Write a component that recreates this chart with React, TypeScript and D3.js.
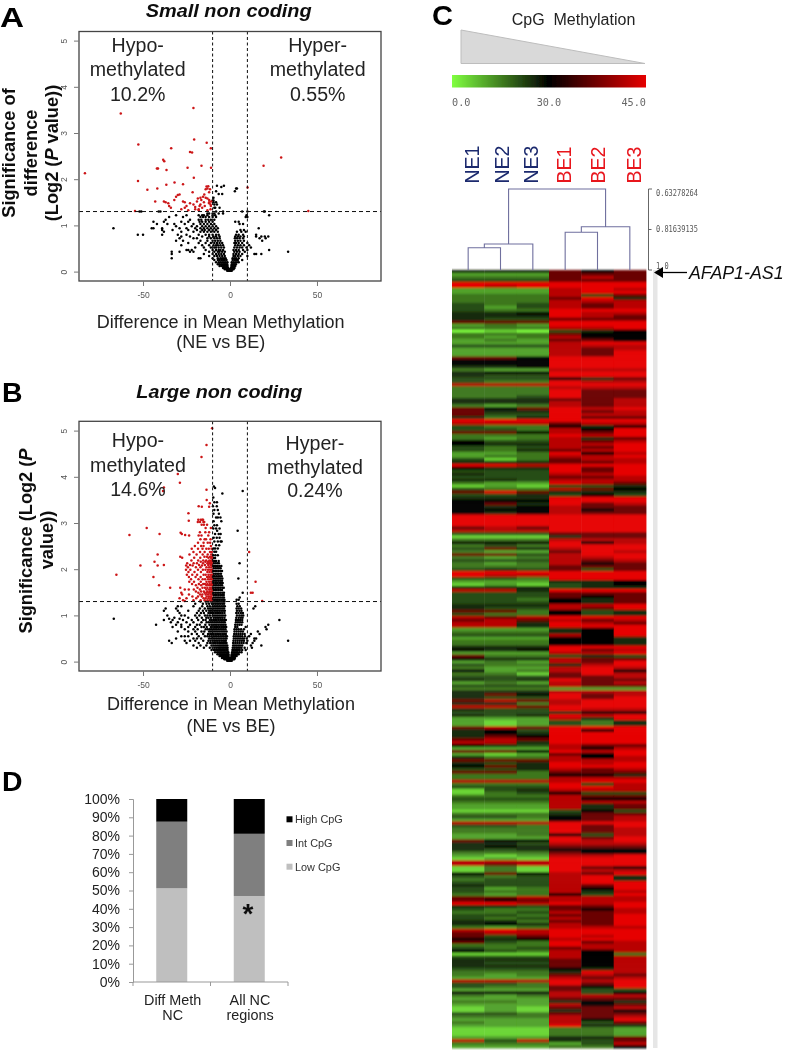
import React, { useEffect, useRef } from "react";
import * as d3 from "d3";

type Band = [number, number[]];

// Panel A, points: [significance, [differences...]]
const smallRed: Band[] = [
  [3.54, [-21]], [3.42, [-62.8]], [2.86, [-20.6]], [2.79, [-13.4]], [2.75, [-52.7]], [2.67, [-33.8, -11]],
  [2.59, [-23]], [2.58, [-21.8]], [2.47, [29.4]], [2.42, [-38.4]], [2.39, [-37.8]], [2.29, [-16.4, 19.3]],
  [2.25, [-24.4, -10.9]], [2.23, [-42, -41.4]], [2.2, [-36.5]], [2.13, [-83.4]], [2.03, [-20.8]], [1.96, [-52.9]],
  [1.93, [-31.9]], [1.89, [-27]], [1.88, [-36.6]], [1.85, [-12.5]], [1.84, [-13.5]], [1.82, [10.1]],
  [1.8, [-41.8, -13]], [1.78, [-14, -11.5]], [1.77, [-47.5]], [1.72, [-12, -21.5]], [1.67, [-29, -14.8]],
  [1.66, [-30]], [1.62, [-31, -15.5]], [1.6, [-17, -14]], [1.58, [-18.5, -13]], [1.55, [-32, -16.5, -12]],
  [1.52, [-43, -38, -27, -19, -10.8]], [1.5, [-37, -26, -15, -12]], [1.48, [-35.5, -23, -12]],
  [1.45, [-21, -17, -11.2]], [1.42, [-35, -25, -17.5, -14.5, -11]], [1.4, [-20]], [1.38, [-34, -26, -16]],
  [1.35, [-28, -20, -18, -11.2]], [1.33, [-24, -18, -13]], [1.31, [-54.6, 45]],
];

const smallBlack: Band[] = [
  [1.86, [-7.5, -3.5]], [1.83, [-5]], [1.8, [3.5, 4]], [1.74, [-8, 2.8]], [1.68, [-6.5, -4.5]], [1.6, [-9.5]],
  [1.54, [-10, -9.5]], [1.5, [-9.5, -8]], [1.45, [-9, -7.5]], [1.38, [-9, -8.5, -6]],
  [1.3, [-52, -51, -41, -40, -8, -4, 7, 10, 19.5, 20]], [1.26, [-13, -12, -10, -9, -6.5, -4]],
  [1.22, [-31, -25, -18, -16, -15, -13, -10, -8.5, 9.5, 22.5]], [1.18, [-35, -27, -17, -15.5, -14, -12, -10, -8, 9, 10]],
  [1.12, [-37, -23, -18, -16.5, -14, -12.5, -11, -9]], [1.08, [-44, -38, -28, -24, -17.5, -16, -14, -12, -10, 3, 5]],
  [1.03, [-42, -36, -32, -26, -21, -17, -15, -13, -11, -9, 5.5, 7.5]], [0.98, [-31, -22, -19, -16, -14, -12, -10, -8]],
  [0.94, [-67, -45, -44, -39, -29, -25, -20, -17, -15, -13, -11, -9, -7, 16.5]],
  [0.9, [-39, -33, -24, -19, -16, -14.5, -12, -10, -8, 6, 8]], [0.86, [-38, -28, -21, -17, -15, -13, -11, -9, -7, 4, 6.5, 9]],
  [0.8, [-53, -50, -39, -30, -25, -18, -14, -12, -10, -8, -6.5, 3.5, 5, 7.5, 15]],
  [0.76, [-28, -23, -16, -12, -9.5, -8, -6, 3, 4.5, 6, 8, 15, 18, 20, 22]],
  [0.72, [-29, -21, -19, -13, -11, -9, -7.5, -6, 2.8, 4, 5.5, 7.5, 17, 20.5]],
  [0.67, [-31, -27, -17, -13, -10, -8.5, -7, -5.5, 3, 4.5, 6, 8, 18.5]],
  [0.62, [-24, -18, -14, -11, -9, -7.5, -6, -4.5, 2.5, 3.5, 5, 7, 10]],
  [0.57, [-28, -16, -12, -9.5, -8, -7, -5.5, -4, 3, 4.5, 6, 8, 11]],
  [0.52, [-20, -15, -11, -9, -8, -6.5, -5, -3.5, 2.5, 4, 5.5, 7, 9.5, 12]],
  [0.47, [-25, -24, -22, -14, -10, -8, -6.5, -5.5, -4, 2, 3.5, 5, 7.5, 10, 22.5]],
  [0.43, [-33.5, -29, -23, -21, -12, -9, -7, -6, -4.5, -3, 2.5, 4, 5.5, 8.5, 33.4]],
  [0.38, [-33.5, -15, -10, -8, -6.5, -5, -3.5, 2, 3.5, 5, 7, 14, 15, 18]],
  [0.34, [-12, -9, -7.5, -6, -4.5, -3, 2, 3, 4.5, 6, 10]],
  [0.29, [-33.5, -18, -17, -10, -7, -5.5, -4.5, -3.5, -2.5, 1.5, 2.5, 3.5, 5]],
  [0.25, [-9, -7, -6, -5, -4, -3, -2, 1.5, 2.5, 3.5, 4.5, 7]],
  [0.2, [-8, -6.5, -5.5, -4.5, -3.5, -2.5, -1.5, 1, 2, 3, 4, 5]],
  [0.16, [-7, -6, -5, -4, -3.2, -2.4, -1.6, 1, 1.8, 2.6, 3.4]], [0.12, [-6, -5, -4, -3, -2.2, -1.4, 0.8, 1.6, 2.4, 3]],
  [0.08, [-4, -3, -2.3, -1.6, -1, 0.6, 1.3, 2, 2.6]], [0.05, [-3, -2.2, -1.5, -1, -0.4, 0.2, 0.8, 1.4, 2]],
  [0.02, [-1.6, -1, -0.5, 0, 0.5, 1]],
];

// Panel B
const largeRed: Band[] = [
  [5.05, [-10.3]], [4.69, [-13.5]], [4.43, [-16.4]], [4.06, [-30]], [3.87, [-28.8]], [3.77, [-38]], [3.72, [-13.5]],
  [3.69, [-38.5]], [3.5, [-13.4]], [3.43, [-11.6]], [3.36, [-18]], [3.35, [-16.2, -12]], [3.21, [-23.9]],
  [3.07, [-18.2, -16.8, -16, -15.5]], [3.05, [-23.7]], [3.02, [-18.5, -17.2, -15.3, -14.8]], [2.96, [-16.3, -15, -13.2]],
  [2.89, [-47.9, -14, -11]], [2.8, [-17.3, -14.2, -12]], [2.79, [-28.4]], [2.76, [-40.5, -27.7]], [2.74, [-57.8, -25.8]],
  [2.73, [-23.5, -18, -16.4, -12.5]], [2.65, [-17, -14.6, -13.8, -11.2]], [2.57, [-18.4, -15.2, -12.8, -11.4]],
  [2.5, [-20.2, -16.6, -15.2, -11]], [2.44, [-22, -18.4, -15.8, -13.6, -12.2, -10.6]],
  [2.37, [11, -21, -17.2, -14.6, -11.5, -10.5]], [2.32, [-41.6, -23.3, -19.2, -15.7, -12.8, -10.8]],
  [2.27, [-28.6, -14.7, -13.3, -11.4, -10.5]], [2.25, [-27.5, -20.6, -17.1, -12.4, -11, -10.4]],
  [2.19, [-22.2, -18.3, -15.4, -13.7, -11.9, -10.9, -10.4]], [2.16, [-43.4, -16.8, -14.2, -12.6, -11.3, -10.4]],
  [2.13, [-24.6, -20.9, -19, -15.5, -13, -11.8, -10.8]], [2.09, [-38, -23, -17.8, -14.4, -12.5, -11.2, -10.4]],
  [2.08, [-51.5, -41.6, -25.2, -21.5, -16.1]], [2.04, [-24.2, -19.6, -17, -13.5, -12, -10.8]],
  [1.99, [-25.3, -22.8, -18.4, -15.6, -14.1, -12.6, -11.4, -10.4]], [1.94, [-23.9, -20.4, -16.7, -13, -11.8, -10.6]],
  [1.88, [-65.3, -24.8, -21.7, -18.9, -15.2, -14, -12.4, -11.2, -10.4]], [1.83, [-44, -23.6, -19.8, -16.9, -13.2, -12, -10.8]],
  [1.78, [-22.4, -18.1, -15.7, -14.3, -12.6, -11.4, -10.4]], [1.73, [14.7, -23.4, -20.7, -16.8, -13.5, -12, -10.8]],
  [1.68, [-21.8, -17.9, -15.4, -14.4, -13, -11.6, -10.4]], [1.65, [-40.8, -19.6, -16.6, -13.5, -12, -10.8]],
  [1.6, [-34.4, -28.6, -18.7, -15.8, -14.4, -13, -11.4, -10.4]], [1.56, [-26, -23.7, -20.8, -17.3, -13.6, -12, -10.8]],
  [1.52, [-19.6, -16.6, -15, -13, -11.6, -10.4]], [1.49, [12, 13, -28, -18.2, -14.6, -13.4, -12, -10.8]],
  [1.45, [-27.5, -23.6, -17.2, -15.9, -14, -12.6, -11.2, -10.4]], [1.41, [-21.6, -18.4, -16.2, -13.4, -12, -10.8]],
  [1.37, [-29, -25, -19.4, -15.2, -14, -12.4, -11.2, -10.4]], [1.33, [-27, -21, -16.9, -14.6, -13, -11.6, -10.6]],
  [1.31, [18.5, -26]],
];

const largeBlack: Band[] = [
  [3.79, [-9.3]], [3.76, [-8.6]], [3.69, [7.3]], [3.64, [-4.4]], [3.55, [-9.6]], [3.45, [-9, -7.5]], [3.36, [-9.8, -7.6]],
  [3.28, [-7, -9]], [3.2, [-9.5, -6.4]], [3.12, [-8, -5.5, -7]], [3.04, [-9.4, -5]], [2.95, [-9, -7.5]],
  [2.88, [-9.6, -8, -6]], [2.83, [4.4, -7.4]], [2.76, [-8.6, -6.5, -5.4]], [2.68, [-9.4, -7.6, -6]], [2.6, [-9, -7, -5.4, -4.8]],
  [2.52, [-8, -6.2]], [2.45, [-9.4, -7, -8.5]], [2.38, [-9, -8]], [2.3, [-9.6, -8.4, -7]], [2.24, [-9.5, -8.6]],
  [2.18, [-9.6, -8.8, -8, -6.5]], [2.13, [5.5, -9.5, -8.5, -7.4, -6.4]], [2.07, [-9.6, -8.8, -8, -7, -6, -5]],
  [2.02, [-9.4, -8.4, -7.4, -6.4, -5.4]], [1.96, [-9.6, -8.6, -7.6, -6.6, -5.6, -4.6]], [1.9, [-9.4, -8.4, -7.4, -6.4, -5.2]],
  [1.85, [-9.6, -8.8, -7.8, -6.8, -5.8, -4.8]], [1.8, [4.8, -9.4, -8.4, -7.4, -6.4, -5.4, -4.4]],
  [1.75, [-9.6, -8.6, -7.6, -6.6, -5.6, -4.6]], [1.7, [-9.4, -8.4, -7.4, -6.2, -5.2, -4.2]],
  [1.65, [-9.6, -8.6, -7.6, -6.6, -5.6, -4.6]], [1.6, [-9.4, -8.4, -7.4, -6.4, -5.4, -4.4, -3.6]],
  [1.55, [-9.6, -8.6, -7.6, -6.6, -5.6, -4.6]], [1.49, [7.3, -9.4, -8.4, -7.4, -6.4, -5.4, -4.4, -3.5]],
  [1.44, [-9.6, -8.6, -7.6, -6.6, -5.6, -4.6, -3.6]], [1.39, [-9.4, -8.4, -7.4, -6.4, -5.4, -4.4, -3.5, 5.6]],
  [1.34, [-10, -9, -8, -7, -6, -5, -4, -3.2, 3.8, 5]],
  [1.3, [-17, -14, -12.6, -11, -10, -9, -8, -7, -6, -5, -4, -3.2]],
  [1.25, [-20, -15.6, -13.5, -12, -10.4, -9.4, -8.4, -7.4, -6.4, -5.4, -4.4, -3.4, 3.8, 5]],
  [1.2, [-30, -28, -21, -16, -13, -11.6, -10, -9, -8, -7, -6, -5, -4, -3, 4.2, 5.6, 14.5]],
  [1.15, [-37, -31, -17.3, -14.5, -12.6, -11.4, -10.4, -9.4, -8.4, -7.4, -6.4, -5.4, -4.4, -3.4, 3.8, 5, 6.4, 13.5]],
  [1.1, [-38, -30, -24, -18, -15.6, -13.6, -12, -11, -10, -9, -8, -7, -6, -5, -4, -3, 4, 5.4, 6.6]],
  [1.05, [-29, -19, -16.7, -15, -12.4, -11.4, -10.4, -9.4, -8.4, -7.4, -6.4, -5.4, -4.4, -3.2, 3.6, 4.8, 6.2, 7.4]],
  [1, [-36, -28, -26, -20, -17.6, -14.4, -13, -11.6, -10, -9, -8, -7, -6, -5, -4, -2.8, 4, 5.4, 6.6, 7.6]],
  [0.95, [-32, -24, -19, -16.2, -13.6, -12.4, -11, -9.4, -8.4, -7.4, -6.4, -5.4, -4.4, -3.2, 3.6, 5, 6.2, 7.2]],
  [0.93, [-66.8, -35, -29]],
  [0.9, [-38, -33, -27, -22, -18.3, -15.4, -14, -11.6, -10.6, -9.6, -8.6, -7.6, -6.6, -5.6, -4.6, -3.4, -2.4, 3.4, 4.6, 5.8, 7, 28.4]],
  [0.85, [-34, -30, -25, -21, -16.4, -13.4, -12.2, -11, -10, -9, -8, -7, -6, -5, -4, -3, 3.4, 4.6, 5.8, 7]],
  [0.8, [-42.5, -31, -28, -23, -19, -17.4, -14.2, -11.8, -10.6, -9.6, -8.6, -7.6, -6.6, -5.6, -4.6, -3.6, -2.6, 3, 4.2, 5.4, 6.6, 22]],
  [0.75, [-33, -28, -24, -20, -16.4, -15, -13.4, -11, -10, -9, -8, -7, -6, -5, -4, -3, -2.2, 3, 4.2, 9, 20.4]],
  [0.7, [-26, -21, -18.6, -14, -12.8, -11.6, -10.6, -9.6, -8.6, -7.6, -6.6, -5.6, -4.6, -3.6, -2.6, 2.6, 3.8, 5, 6.4, 8, 21]],
  [0.65, [-30, -24, -20, -16.4, -14.8, -12, -11, -10, -9, -8, -7, -6, -5, -4, -3, -2, 2.6, 3.8, 5, 6.2, 7.4, 16]],
  [0.6, [-22, -19, -15.4, -12.6, -11.4, -10.4, -9.4, -8.4, -7.4, -6.4, -5.4, -4.4, -3.4, -2.4, 2.4, 3.6, 4.8, 6, 7.2, 8.4, 12, 17]],
  [0.55, [-28, -26, -24, -18, -14.4, -13, -11.8, -10.6, -9.6, -8.6, -7.6, -6.6, -5.6, -4.6, -3.6, -2.6, -1.8, 2.2, 3.4, 4.6, 5.8, 7, 8.6, 11]],
  [0.5, [-31, -21, -19, -16.6, -12, -10.8, -9.8, -8.8, -7.8, -6.8, -5.8, -4.8, -3.8, -2.8, -2, 2.2, 3.4, 4.6, 5.8, 7, 8, 9.6, 14, 15]],
  [0.45, [-35, -26, -23, -20, -15.4, -12.4, -11.2, -10, -9, -8, -7, -6, -5, -4, -3.2, -2.4, 2, 3.2, 4.4, 5.6, 6.8, 8, 10, 14, 33.4]],
  [0.4, [-33.5, -25, -18, -13, -11.4, -10.2, -9.2, -8.2, -7.2, -6.2, -5.2, -4.4, -3.6, -2.8, -2, 1.8, 3, 4.2, 5.4, 6.6, 7.8, 9.4, 13]],
  [0.35, [-21, -17, -13.6, -10.6, -9.4, -8.4, -7.4, -6.4, -5.6, -4.8, -4, -3.2, -2.4, -1.6, 1.8, 2.8, 3.8, 4.8, 5.8, 7, 12, 18]],
  [0.3, [-19, -15, -11.6, -10, -8.8, -7.8, -6.8, -6, -5.2, -4.4, -3.6, -2.8, -2, -1.4, 1.6, 2.6, 3.6, 4.6, 5.6, 6.6, 8.4, 12.6]],
  [0.25, [-10.6, -9.2, -8, -7, -6.2, -5.4, -4.6, -3.8, -3, -2.2, -1.4, 1.4, 2.2, 3, 3.8, 4.6, 5.6, 7, 9]],
  [0.2, [-8.6, -7.4, -6.4, -5.6, -4.8, -4, -3.2, -2.4, -1.6, -1, 1.2, 2, 2.8, 3.6, 4.4, 5.4, 6.6]],
  [0.16, [-7.2, -6.2, -5.4, -4.6, -3.8, -3, -2.2, -1.5, -0.9, 1, 1.8, 2.6, 3.4, 4.2, 5]],
  [0.12, [-6, -5.2, -4.4, -3.6, -2.8, -2.1, -1.4, -0.8, 0.8, 1.5, 2.2, 3, 3.8]],
  [0.08, [-4.6, -3.8, -3, -2.3, -1.6, -1, -0.4, 0.2, 0.8, 1.4, 2.1, 2.8]],
  [0.05, [-3.2, -2.5, -1.8, -1.2, -0.6, 0, 0.6, 1.2, 1.8, 2.4]],
  [0.02, [-1.6, -1, -0.5, 0, 0.5, 1]],
];

// Panel C, one string per row, one digit per sample, looked up in methLevels
const samples = ["NE1", "NE2", "NE3", "BE1", "BE2", "BE3"];
const methLevels = [0, 5, 11, 16, 21, 25, 30, 37, 42, 45];
const heatRows = [
  "555767", "222777", "333787", "444777", "999999", "989999", "222898", "222899", "333847", "333795", "333888", "434878",
  "424878", "433999", "556988", "555987", "544777", "777999", "232999", "333889", "010456", "333766", "323866", "232776",
  "222899", "444888", "222878", "222879", "222879", "776999", "666999", "666999", "556999", "322888", "566999", "544999",
  "444657", "433988", "888999", "333888", "333977", "333977", "334977", "555778", "555878", "323878", "767989", "755978",
  "744988", "535977", "999999", "888788", "433656", "443869", "776879", "333989", "323857", "644878", "655889", "434879",
  "435789", "223968", "233889", "413788", "555778", "998999", "655979", "444979", "544889", "444778", "554888", "322987",
  "121445", "433876", "797555", "445464", "555999", "666999", "675978", "656877", "666867", "656877", "999999", "999999",
  "999999",
  "999999", "787999", "888999", "444777", "111577", "333888", "666968", "343999", "475899", "322798", "774899", "323889",
  "444878", "323867", "333777", "454747", "999999", "988999", "443999", "222556", "121456", "555455", "885999", "444777",
  "444767", "443657", "444657", "555889", "544879", "773645", "433645", "878999", "787878", "885987", "885999", "222569",
  "333569", "444869", "222665", "333665", "333665", "555999", "656978", "222889", "733454", "655877",
  "232879", "433589", "322898", "623896", "331798", "444778", "545977", "232878", "444877", "333222", "555888", "576978",
  "544979", "787899", "553899", "887999", "544988", "444566", "545989", "222859", "212435", "212435", "787999", "564969",
  "565999", "576999", "787999", "885999", "654877", "222868", "776989", "212769", "533868", "777888", "545989", "675999",
  "445878", "773777", "333665", "333888", "888899", "333948", "444998", "145888", "134644",
  "333877", "444866", "333888", "222857", "222857", "111464", "333577", "443678", "222678", "888999", "443979", "333978",
  "333978", "223648", "222979", "766989", "554888", "565777", "545666", "333766", "212889", "121999", "888999", "878999",
  "131976", "131988", "676879", "434895", "344895", "444899", "544879", "423869", "433858", "323649", "778888", "767888",
  "998989", "554779", "433768", "334878", "443779", "434879", "553779", "565879", "323888", "898999", "788999", "747989",
  "656899", "743978", "333988", "434788", "643868", "111863", "444868", "555768", "544768", "555768", "444658", "333598",
  "323787", "222878", "888989", "443979", "433769", "222744", "666846", "323888", "222777", "332565", "222867", "121778",
  "121576", "443777", "333878", "222869", "322847", "222955", "111332", "111332", "111332", "222557", "848547", "333248",
  "222336",
];

// Dendrogram, merge similarity
const dendrogram = {
  sim: 0.6328,
  children: [
    { sim: 0.882, children: [{ sim: 0.899, children: [{ name: "NE1" }, { name: "NE2" }] }, { name: "NE3" }] },
    { sim: 0.804, children: [{ sim: 0.829, children: [{ name: "BE1" }, { name: "BE2" }] }, { name: "BE3" }] },
  ],
};
const similarityTicks = ["0.63278264", "0.81639135", "1.0"];
const colorStops = [0, 30, 45];

// Panel D
const cpgGroups = ["Diff Meth NC", "All NC regions"];
const cpgLow = [51.2, 47];
const cpgInt = [36.4, 34];
const cpgHigh = [12.4, 19];
const cpgLegend = ["High CpG", "Int CpG", "Low CpG"];

const SANS = "'Liberation Sans', Arial, sans-serif";
const MONO = "'DejaVu Sans Mono', monospace";

function addLines(g: any, lines: string[], x: number, y0: number, step: number, size: number) {
  lines.forEach((line, i) => {
    g.append("text")
      .attr("x", x)
      .attr("y", y0 + i * step)
      .attr("text-anchor", "middle")
      .attr("font-family", SANS)
      .attr("font-size", size)
      .attr("fill", "#222")
      .text(line);
  });
}

function drawVolcano(svg: any, top: number, bottom: number, red: Band[], black: Band[]) {
  const x = d3.scaleLinear().domain([-86.8, 86.8]).range([79, 381]);
  // y=0 sits 9.4px above the box bottom, 46.2 px per unit
  const y = d3.scaleLinear().domain([0, 5]).range([bottom - 9.4, bottom - 9.4 - 231]);
  const g = svg.append("g");

  const flat = (bands: Band[]) => bands.flatMap(([v, xs]) => xs.map((d) => [d, v]));

  g.append("g")
    .selectAll("circle")
    .data(flat(black))
    .join("circle")
    .attr("cx", (d: number[]) => x(d[0]))
    .attr("cy", (d: number[]) => y(d[1]))
    .attr("r", 1.25)
    .attr("fill", "#000");
  g.append("g")
    .selectAll("circle")
    .data(flat(red))
    .join("circle")
    .attr("cx", (d: number[]) => x(d[0]))
    .attr("cy", (d: number[]) => y(d[1]))
    .attr("r", 1.25)
    .attr("fill", "#cc1418");

  // cut-offs
  [-10, 10].forEach((v) => {
    g.append("line")
      .attr("x1", x(v)).attr("x2", x(v)).attr("y1", top).attr("y2", bottom)
      .attr("stroke", "#111").attr("stroke-width", 1).attr("stroke-dasharray", "3,2.5");
  });
  g.append("line")
    .attr("x1", 79).attr("x2", 381).attr("y1", y(1.3)).attr("y2", y(1.3))
    .attr("stroke", "#111").attr("stroke-width", 1).attr("stroke-dasharray", "4,3");

  g.append("rect")
    .attr("x", 79).attr("y", top).attr("width", 302).attr("height", bottom - top)
    .attr("fill", "none").attr("stroke", "#444").attr("stroke-width", 1.3);

  const xAxis = g.append("g")
    .attr("transform", `translate(0,${bottom})`)
    .call(d3.axisBottom(x).tickValues([-50, 0, 50]).tickFormat((d: any) => String(d)).tickSize(5).tickPadding(6));
  const yAxis = g.append("g")
    .attr("transform", "translate(79,0)")
    .call(d3.axisLeft(y).tickValues([0, 1, 2, 3, 4, 5]).tickFormat((d: any) => String(d)).tickSize(5));
  [xAxis, yAxis].forEach((a) => {
    a.select(".domain").remove();
    a.selectAll("line").attr("stroke", "#777");
    a.selectAll("text").attr("font-family", SANS).attr("font-size", 8.5).attr("fill", "#555");
  });
  yAxis.selectAll("text")
    .attr("text-anchor", "middle")
    .attr("dy", 0)
    .attr("x", 0)
    .attr("y", 0)
    .attr("transform", "translate(-12,0) rotate(-90)");
}

function drawHeatmap(svg: any) {
  const color = d3.scaleLinear<string>().domain(colorStops).range(["#80ff40", "#000000", "#e60000"]);
  const col = d3.scaleBand().domain(samples).range([452, 646]);
  const row = d3.scaleBand().domain(heatRows.map((_, i) => String(i))).range([270, 1048]);

  const defs = svg.append("defs");
  // the source is a resampled raster, neighbouring rows run into each other
  defs.append("filter").attr("id", "rowBlur").attr("x", 0).attr("width", 1)
    .append("feGaussianBlur").attr("stdDeviation", "0 1");

  const rows = svg.append("g")
    .attr("filter", "url(#rowBlur)")
    .selectAll("g")
    .data(heatRows)
    .join("g")
    .attr("transform", (_: string, i: number) => `translate(0,${row(String(i))})`);
  rows.selectAll("rect")
    .data((d: string) => samples.map((s, j) => ({ s, v: methLevels[+d[j]] })))
    .join("rect")
    .attr("x", (d: any) => col(d.s))
    .attr("width", col.bandwidth() + 0.4)
    .attr("height", row.bandwidth() + 0.4)
    .attr("fill", (d: any) => color(d.v));

  // light strip right of the heatmap
  svg.append("rect")
    .attr("x", 653).attr("y", 270).attr("width", 4.5).attr("height", 778).attr("fill", "#e6e6e6");

  // dendrogram through d3.hierarchy
  const sim = d3.scaleLinear().domain([1, 0.6328]).range([270, 189]);
  const root = d3.hierarchy<any>(dendrogram);
  root.eachAfter((n: any) => {
    n.px = n.children ? d3.mean(n.children, (c: any) => c.px) : (col(n.data.name) as number) + col.bandwidth() / 2;
    n.py = n.children ? sim(n.data.sim) : 270;
  });
  const elbow = root.descendants().filter((n: any) => n.children).map((n: any) => {
    const [a, b] = n.children;
    return `M${a.px},${a.py}V${n.py}H${b.px}V${b.py}`;
  });
  svg.append("path")
    .attr("d", elbow.join(""))
    .attr("fill", "none")
    .attr("stroke", "#6f6f9e")
    .attr("stroke-width", 1.1);

  const labelX = [479.3, 509.3, 538.3, 571.3, 605, 640.7];
  samples.forEach((s, i) => {
    svg.append("text")
      .attr("transform", `translate(${labelX[i]},183.5) rotate(-90)`)
      .attr("font-family", SANS)
      .attr("font-size", 19.5)
      .attr("fill", i < 3 ? "#1b2a6e" : "#e8141c")
      .text(s);
  });

  // similarity bracket
  svg.append("path")
    .attr("d", "M652,189H648.5V270H652M648.5,229.5H651.5")
    .attr("fill", "none").attr("stroke", "#555").attr("stroke-width", 0.9);
  const simY = [196, 231.7, 269];
  similarityTicks.forEach((t, i) => {
    svg.append("text")
      .attr("x", 656).attr("y", simY[i])
      .attr("font-family", MONO).attr("font-size", 8).attr("fill", "#555")
      .attr("textLength", t.length * 4.2).attr("lengthAdjust", "spacingAndGlyphs")
      .text(t);
  });

  // arrow to the gene name
  svg.append("line")
    .attr("x1", 687).attr("x2", 660).attr("y1", 272.5).attr("y2", 272.5)
    .attr("stroke", "#000").attr("stroke-width", 1.3);
  svg.append("path").attr("d", "M654,272.5L663,267V278Z").attr("fill", "#000");
  svg.append("text")
    .attr("x", 689).attr("y", 279)
    .attr("font-family", SANS).attr("font-style", "italic").attr("font-size", 17.8).attr("fill", "#111")
    .text("AFAP1-AS1");

  // methylation key
  svg.append("text")
    .attr("x", 573.5).attr("y", 25.3).attr("text-anchor", "middle")
    .attr("font-family", SANS).attr("font-size", 16).attr("fill", "#222")
    .style("white-space", "pre")
    .text("CpG  Methylation");
  svg.append("path")
    .attr("d", "M461,30V63.5H645Z")
    .attr("fill", "#d9d9d9").attr("stroke", "#bdbdbd").attr("stroke-width", 1);

  const keyX = d3.scaleLinear().domain(colorStops).range([452, 549, 646]);
  const grad = defs.append("linearGradient").attr("id", "methKey");
  colorStops.forEach((v) => {
    grad.append("stop")
      .attr("offset", (keyX(v) - 452) / 194)
      .attr("stop-color", color(v));
  });
  svg.append("rect")
    .attr("x", 452).attr("y", 75).attr("width", 194).attr("height", 12.5)
    .attr("fill", "url(#methKey)");
  const anchors = ["start", "middle", "end"];
  colorStops.forEach((v, i) => {
    svg.append("text")
      .attr("x", keyX(v)).attr("y", 105.5).attr("text-anchor", anchors[i])
      .attr("font-family", MONO).attr("font-size", 10.2).attr("fill", "#666")
      .text(v.toFixed(1));
  });
}

function drawBars(svg: any) {
  const x = d3.scaleBand().domain(cpgGroups).range([133, 288]);
  const y = d3.scaleLinear().domain([0, 100]).range([982, 799]);
  const table = cpgGroups.map((group, i) => ({ group, low: cpgLow[i], int: cpgInt[i], high: cpgHigh[i] }));
  const stacked = d3.stack<any>().keys(["low", "int", "high"])(table);
  const fills = ["#bfbfbf", "#7f7f7f", "#000000"];
  const barW = 31;

  stacked.forEach((layer: any, k: number) => {
    svg.append("g")
      .selectAll("rect")
      .data(layer)
      .join("rect")
      .attr("x", (d: any) => (x(d.data.group) as number) + x.bandwidth() / 2 - barW / 2)
      .attr("y", (d: any) => y(d[1]))
      .attr("width", barW)
      .attr("height", (d: any) => y(d[0]) - y(d[1]))
      .attr("fill", fills[k]);
  });

  const yAxis = svg.append("g")
    .attr("transform", "translate(133,0)")
    .call(d3.axisLeft(y).ticks(10).tickFormat((d: any) => `${d}%`).tickSize(4).tickPadding(9));
  yAxis.select(".domain").attr("stroke", "#999");
  yAxis.selectAll("line").attr("stroke", "#999");
  yAxis.selectAll("text").attr("font-family", SANS).attr("font-size", 14).attr("fill", "#222");

  svg.append("path")
    .attr("d", "M133,982H288M133,982V986M210.5,982V986M288,982V986")
    .attr("fill", "none").attr("stroke", "#999");

  addLines(svg, ["Diff Meth", "NC"], 172.7, 1005, 15, 14.4);
  addLines(svg, ["All NC", "regions"], 250, 1005, 15, 14.4);

  svg.append("text")
    .attr("x", 248).attr("y", 923).attr("text-anchor", "middle")
    .attr("font-family", SANS).attr("font-weight", "bold").attr("font-size", 28).attr("fill", "#111")
    .text("*");

  const legendFill = ["#000000", "#7f7f7f", "#bfbfbf"];
  const legendY = d3.scalePoint().domain(cpgLegend).range([819.3, 866.7]);
  cpgLegend.forEach((name, i) => {
    const cy = legendY(name) as number;
    svg.append("rect")
      .attr("x", 286.5).attr("y", cy - 3).attr("width", 6).attr("height", 6).attr("fill", legendFill[i]);
    svg.append("text")
      .attr("x", 295).attr("y", cy + 4)
      .attr("font-family", SANS).attr("font-size", 10.9).attr("fill", "#333")
      .text(name);
  });
}

export default function App() {
  const ref = useRef<SVGSVGElement | null>(null);

  useEffect(() => {
    const root = d3.select(ref.current);
    root.selectAll("*").remove();
    root.append("defs").append("filter").attr("id", "soft")
      .append("feGaussianBlur").attr("stdDeviation", 0.45);
    const svg = root.append("g").attr("filter", "url(#soft)");

    drawVolcano(svg, 31.5, 281, smallRed, smallBlack);
    drawVolcano(svg, 421.3, 671, largeRed, largeBlack);
    drawHeatmap(svg);
    drawBars(svg);

    // panel letters, the source face is wider than Liberation bold
    const letters: [string, number, number, number][] = [
      ["A", 0, 26.7, 24], ["B", 2, 402.3, 20.5], ["C", 432, 25.3, 21], ["D", 2, 790.7, 20.5],
    ];
    letters.forEach(([t, x, y, w]) => {
      svg.append("text").attr("x", x).attr("y", y)
        .attr("font-family", SANS).attr("font-weight", "bold").attr("font-size", 27).attr("fill", "#000")
        .attr("textLength", w).attr("lengthAdjust", "spacingAndGlyphs").text(t);
    });

    // titles, kept just inside the top edge
    const titles: [string, number, number][] = [["Small non coding", 228.7, 17], ["Large non coding", 219.3, 398.3]];
    titles.forEach(([t, x, y]) => {
      svg.append("text").attr("x", x).attr("y", y).attr("text-anchor", "middle")
        .attr("font-family", SANS).attr("font-weight", "bold").attr("font-style", "italic")
        .attr("font-size", 18.6).attr("fill", "#111")
        .attr("textLength", 166).attr("lengthAdjust", "spacingAndGlyphs").text(t);
    });

    // annotations inside the volcano boxes
    addLines(svg, ["Hypo-", "methylated", "10.2%"], 137.7, 52, 24.3, 19.6);
    addLines(svg, ["Hyper-", "methylated", "0.55%"], 317.7, 52, 24.3, 19.6);
    addLines(svg, ["Hypo-", "methylated", "14.6%"], 138, 447.3, 24.2, 19.6);
    addLines(svg, ["Hyper-", "methylated", "0.24%"], 315, 450, 23.7, 19.6);

    // x labels
    addLines(svg, ["Difference in Mean Methylation", "(NE vs BE)"], 220.7, 328, 20, 18);
    addLines(svg, ["Difference in Mean Methylation", "(NE vs BE)"], 231, 710, 22, 18);

    // y labels
    const yLabel = (x: number, y: number, build: (t: any) => void) => {
      const t = svg.append("text")
        .attr("transform", `translate(${x},${y}) rotate(-90)`)
        .attr("text-anchor", "middle")
        .attr("font-family", SANS).attr("font-weight", "bold").attr("font-size", 18.2).attr("fill", "#111");
      build(t);
    };
    const logP = (before: string, after: string) => (t: any) => {
      t.append("tspan").text(before);
      t.append("tspan").attr("font-style", "italic").text("P");
      t.append("tspan").text(after);
    };
    yLabel(15, 153, (t) => t.text("Significance of"));
    yLabel(36.6, 153, (t) => t.text("difference"));
    yLabel(58, 153, logP("(Log2 (", " value))"));
    yLabel(32, 541, logP("Significance (Log2 (", ""));
    yLabel(53, 540, (t) => t.text("value))"));
  }, []);

  return (
    <svg
      ref={ref}
      width={786}
      height={1050}
      style={{ position: "absolute", left: 0, top: 0, background: "#fff", display: "block" }}
    />
  );
}
